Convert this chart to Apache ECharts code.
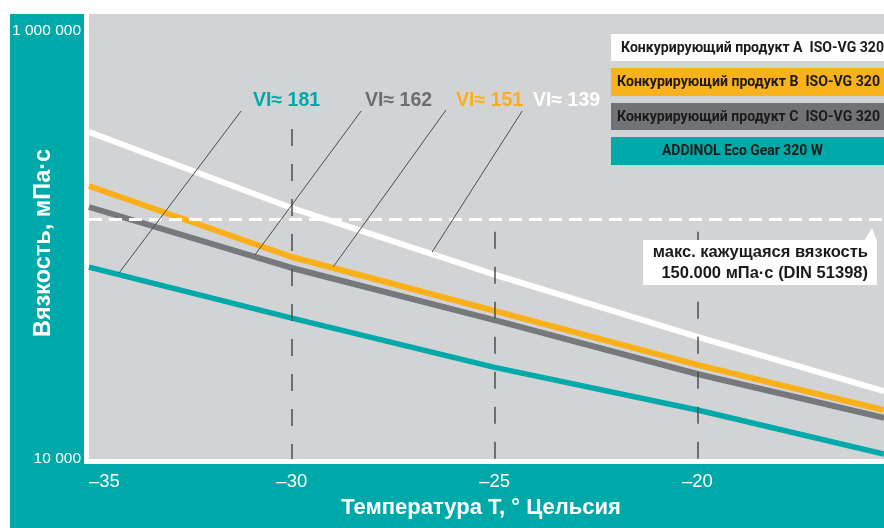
<!DOCTYPE html>
<html><head><meta charset="utf-8">
<script src="https://cdn.jsdelivr.net/npm/echarts@6/dist/echarts.min.js"></script>
<style>html,body{margin:0;padding:0;background:#fff}#c{width:884px;height:528px}</style>
</head><body><div id="c"></div><script>
// ---- data ----
const temps   = [-35, -30, -25, -20, -15.4];
const prodA   = [294900, 134300, 67400, 35400, 20200];   // Конкурирующий продукт A
const prodB   = [168700, 80900, 46300, 26500, 16600];    // Конкурирующий продукт B
const prodC   = [135700, 72200, 42100, 24100, 15300];    // Конкурирующий продукт C
const addinol = [72900, 43000, 25800, 16600, 10530];     // ADDINOL Eco Gear 320 W
const seriesNames = ['Конкурирующий продукт A  ISO-VG 320','Конкурирующий продукт B  ISO-VG 320','Конкурирующий продукт C  ISO-VG 320','ADDINOL Eco Gear 320 W'];
const xTickText = {'-35':'–35','-30':'–30','-25':'–25','-20':'–20'};
const yTickText = {4:'10 000', 6:'1 000 000'};
const maxViscLine = 120000;
const vLineTemps = [-30, -25, -20];
const vLineTops  = [304000, 105000, 105000];
const viLabels = ['VI≈ 181','VI≈ 162','VI≈ 151','VI≈ 139'];
const viTop    = [[-31.25, 366500], [-28.29, 366500], [-26.20, 370200], [-24.32, 366500]];
const viBottom = [[-34.26, 68550], [-30.91, 82600], [-28.98, 72940], [-26.54, 85190]];
const annText = ['макс. кажущаяся вязкость','150.000 мПа·с (DIN 51398)'];
const xTitle = 'Температура T, ° Цельсия';
const yTitle = 'Вязкость, мПа·с';

// ---- style ----
const TEAL='#00a9a9', ORANGE='#fbb01a', GREY='#77787b', BG='#d2d3d5', WHITE='#ffffff';
const FONT="'Liberation Sans', Arial, sans-serif";
const viColors=[TEAL,'#6d6e71','#f9ae1a',WHITE];
const viX=[253,365,456,533];

function fit(text, size, weight, family, w){
  const c=document.createElement('canvas').getContext('2d');
  c.font=weight+' '+size+'px '+family;
  return w/c.measureText(text).width;
}

const chart=echarts.init(document.getElementById('c'),null,{renderer:'canvas'});
const mk=(name,color,vals,w)=>({type:'line',name,data:temps.map((t,i)=>[t,vals[i]]),symbol:'none',
  lineStyle:{color,width:w},itemStyle:{color},silent:true});

const legY=[[34,27],[68,28],[103,27],[137,28]];
const legFill=[WHITE,'#f9b11c','#717275',TEAL];
const LF="Roboto, 'Liberation Sans', sans-serif";
const legendGraphics=[];
legY.forEach((r,i)=>{
  legendGraphics.push({type:'rect',z:100,shape:{x:611,y:r[0],width:273,height:r[1]},style:{fill:legFill[i]}});
  const w = i<3 ? 263 : 161;
  const x0 = i===0 ? 621 : (i<3 ? 617 : 662);
  legendGraphics.push({type:'text',z:101,x:x0,y:r[0]+r[1]/2+0.5,scaleX:fit(seriesNames[i],14,'bold',LF,w),
    style:{text:seriesNames[i],fill:'#1a1a1a',fontSize:14,fontWeight:'bold',fontFamily:LF,align:'left',verticalAlign:'middle'}});
});

const option={
  animation:false,
  backgroundColor:'#fff',
  grid:{left:89,top:14,right:0,bottom:69,show:true,backgroundColor:BG,borderWidth:0,outerBoundsMode:'none',containLabel:false},
  xAxis:{type:'value',min:-35,max:-15.4,interval:5,axisLine:{show:false},axisTick:{show:false},splitLine:{show:false},
    axisLabel:{color:'#fff',fontSize:18.5,fontFamily:FONT,margin:13,alignMinLabel:'left',showMaxLabel:false,
      formatter:v=>xTickText[String(Math.round(v))]||''}},
  yAxis:{type:'log',logBase:10,min:10000,max:1000000,axisLine:{show:false},axisTick:{show:false},splitLine:{show:false},
    axisLabel:{color:'#fff',fontSize:15.5,fontFamily:FONT,margin:8,
      formatter:v=>{const e=Math.round(Math.log10(v)); if(e===6) return '{top|'+yTickText[6]+'}'; return yTickText[e]||'';},
      rich:{top:{padding:[34,0,0,0],color:'#fff',fontSize:15.5,fontFamily:FONT}}}},
  series:[
    {type:'line',data:[],silent:true,z:1,markLine:{symbol:['none','none'],silent:true,animation:false,label:{show:false},
      lineStyle:{color:'#4d4d4f',width:1.5,type:[17,18]},
      data:vLineTemps.map((t,i)=>[{coord:[t,vLineTops[i]]},{coord:[t,10000]}])}},
    mk(seriesNames[3],TEAL,addinol,5.5),
    mk(seriesNames[2],GREY,prodC,6),
    mk(seriesNames[1],ORANGE,prodB,6),
    mk(seriesNames[0],WHITE,prodA,6),
    {type:'line',data:[],silent:true,z:5,markLine:{symbol:['none','none'],silent:true,animation:false,label:{show:false},
      data:[
        {yAxis:maxViscLine,lineStyle:{color:WHITE,width:3,type:[13,7]}},
        ...viTop.map((p,i)=>[{coord:p,lineStyle:{color:'#4d4d4f',width:1,type:'solid'}},{coord:viBottom[i]}])
      ]}}
  ],
  graphic:[
    {type:'rect',z:-10,shape:{x:10,y:14,width:74,height:514},style:{fill:TEAL}},
    {type:'rect',z:-10,shape:{x:10,y:464,width:874,height:64},style:{fill:TEAL}},
    {type:'text',z:100,x:44,y:243,rotation:Math.PI/2,style:{text:yTitle,fill:'#fff',fontSize:23.5,fontWeight:'bold',fontFamily:FONT,align:'center',verticalAlign:'middle'}},
    {type:'text',z:100,x:481,y:508,style:{text:xTitle,fill:'#fff',fontSize:22,fontWeight:'bold',fontFamily:FONT,align:'center',verticalAlign:'middle'}},
    ...viLabels.map((t,i)=>({type:'text',z:100,x:viX[i],y:101,style:{text:t,fill:viColors[i],fontSize:19.5,fontWeight:'bold',fontFamily:FONT,align:'left',verticalAlign:'middle'}})),
    {type:'rect',z:100,shape:{x:643,y:240,width:234,height:45},style:{fill:WHITE}},
    {type:'polygon',z:100,shape:{points:[[864,241],[872,228],[877,241]]},style:{fill:WHITE}},
    {type:'text',z:101,x:868,y:252,style:{text:annText[0],fill:'#1a1a1a',fontSize:16.5,fontWeight:'bold',fontFamily:FONT,align:'right',verticalAlign:'middle'}},
    {type:'text',z:101,x:868,y:273,style:{text:annText[1],fill:'#1a1a1a',fontSize:16.5,fontWeight:'bold',fontFamily:FONT,align:'right',verticalAlign:'middle'}},
    ...legendGraphics
  ]
};
chart.setOption(option);
</script></body></html>
